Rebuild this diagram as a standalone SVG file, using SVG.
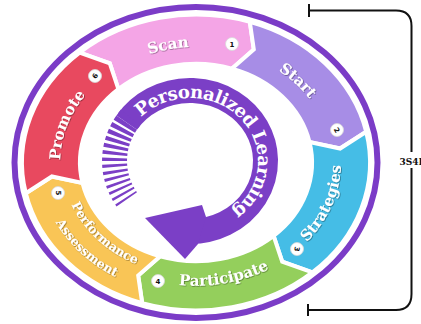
<svg xmlns="http://www.w3.org/2000/svg" width="421" height="324" viewBox="0 0 421 324">
<defs>
<style>
.seg{stroke:#fff;stroke-width:4;stroke-linejoin:miter}
.lbl{font-family:"DejaVu Serif","Liberation Serif",serif;font-weight:bold;font-size:15px;fill:#fff;text-anchor:middle}
.sm{font-size:12.5px}
.badge circle{fill:#fff;stroke:#d8d8d8;stroke-width:0.8}
.badge text{font-family:"DejaVu Sans",sans-serif;font-weight:bold;font-size:7px;fill:#111;text-anchor:middle}
.pur{fill:none;stroke:#7b3fc6}
.br{fill:none;stroke:#111;stroke-width:2}
</style>
<filter id="sh" x="-20%" y="-20%" width="140%" height="140%"><feDropShadow dx="0.7" dy="0.7" stdDeviation="0.5" flood-color="#000" flood-opacity="0.45"/></filter>
<path id="tScan" d="M105.0,76.6 A136 115.6 0 0 1 238.0,52.6"/>
<path id="tStart" d="M238.0,52.6 A136 115.6 0 0 1 329.0,138.5"/>
<path id="tPromote" d="M63.0,186.5 A136 115.6 0 0 1 105.0,76.6"/>
<path id="tStrat" d="M293.0,254.1 A145 123.25 0 0 0 337.8,136.9"/>
<path id="tPart" d="M151.2,279.7 A145 123.25 0 0 0 293.0,254.1"/>
<path id="tPerf" d="M64.9,186.2 A134 113.9 0 0 0 154.6,270.8"/>
<path id="tAss" d="M42.4,190.2 A157 133.45 0 0 0 147.5,289.4"/>
<path id="tPL" d="M141.1,117.2 A68 63 0 1 1 178.2,223.0"/>
</defs>
<rect width="421" height="324" fill="#fff"/>

<ellipse id="outer-ring" cx="196" cy="162.5" rx="181.5" ry="155.5" fill="none" stroke="#7b3cc7" stroke-width="6"/>

<g id="scan">
<path class="seg" fill="#f4a5e6" d="M79.6,52.6 A174 147.9 0 0 1 249.8,21.8 L253.8,49.5 L231.8,68.7 A116 98.6 0 0 0 118.4,89.2 L109.8,63.4 Z"/>
<text class="lbl" filter="url(#sh)"><textPath href="#tScan" startOffset="50%">Scan</textPath></text>
<g class="badge"><circle cx="232" cy="44" r="6.5"/><text x="232" y="46.5">1</text></g>
</g>

<g id="start">
<path class="seg" fill="#a78de6" d="M249.8,21.8 A174 147.9 0 0 1 366.2,131.7 L340.1,148.5 L309.5,142.0 A116 98.6 0 0 0 231.8,68.7 L253.8,49.5 Z"/>
<text class="lbl" filter="url(#sh)"><textPath href="#tStart" startOffset="50%">Start</textPath></text>
<g class="badge"><circle cx="337" cy="130" r="6.5"/><text x="337" y="132.5" transform="rotate(60 337 130)">2</text></g>
</g>

<g id="strategies">
<path class="seg" fill="#45bde6" d="M366.2,131.7 A174 147.9 0 0 1 312.4,272.4 L282.2,261.6 L273.6,235.8 A116 98.6 0 0 0 309.5,142.0 L340.1,148.5 Z"/>
<text class="lbl" filter="url(#sh)"><textPath href="#tStrat" startOffset="46%">Strategies</textPath></text>
<g class="badge"><circle cx="297" cy="249" r="6.5"/><text x="297" y="251.5" transform="rotate(100 297 249)">3</text></g>
</g>

<g id="participate">
<path class="seg" fill="#94cf5c" d="M312.4,272.4 A174 147.9 0 0 1 142.2,303.2 L138.2,275.5 L160.2,256.3 A116 98.6 0 0 0 273.6,235.8 L282.2,261.6 Z"/>
<text class="lbl" filter="url(#sh)"><textPath href="#tPart" startOffset="50%">Participate</textPath></text>
<g class="badge"><circle cx="158" cy="281" r="6.5"/><text x="158" y="283.5">4</text></g>
</g>

<g id="performance-assessment">
<path class="seg" fill="#f9c556" d="M142.2,303.2 A174 147.9 0 0 1 25.8,193.3 L51.9,176.5 L82.5,183.0 A116 98.6 0 0 0 160.2,256.3 L138.2,275.5 Z"/>
<text class="lbl sm" filter="url(#sh)"><textPath href="#tPerf" startOffset="50%">Performance</textPath></text>
<text class="lbl sm" filter="url(#sh)"><textPath href="#tAss" startOffset="50%">Assessment</textPath></text>
<g class="badge"><circle cx="58" cy="193" r="6.5"/><text x="58" y="195.5" transform="rotate(90 58 193)">5</text></g>
</g>

<g id="promote">
<path class="seg" fill="#e8495f" d="M25.8,193.3 A174 147.9 0 0 1 79.6,52.6 L109.8,63.4 L118.4,89.2 A116 98.6 0 0 0 82.5,183.0 L51.9,176.5 Z"/>
<text class="lbl" filter="url(#sh)"><textPath href="#tPromote" startOffset="50%">Promote</textPath></text>
<g class="badge"><circle cx="95" cy="76" r="6.5"/><text x="95" y="78.5" transform="rotate(-60 95 76)">6</text></g>
</g>

<g id="personalized-learning">
<path class="pur" stroke-width="25" d="M126.7,122.6 A75.5 70.5 0 1 1 190,231.5"/>
<polygon fill="#7b3fc6" points="145,218 202,205 206,217 198,244 185,259"/>
<path class="pur" stroke-width="25" stroke-dasharray="4.2 2.2 4.2 2.2 4 2.4 3.8 2.5 3.6 2.6 3.4 2.8 3.2 3 3 3.1 2.9 3.2 2.8 3.3 2.6 3.4 2.5 3.4 2.4 3.5 2.2 3.6 2 20" d="M130.5,117.6 A75.5 70.5 0 0 0 128.2,201.4"/>
<text font-family="DejaVu Serif, Liberation Serif, serif" font-weight="bold" font-size="18" fill="#fff"><textPath href="#tPL" textLength="215" lengthAdjust="spacing">Personalized Learning</textPath></text>
</g>

<g id="connectors">
<path class="br" d="M309,10.5 H396 Q411.5,10.5 411.5,26 V152"/>
<path class="br" d="M411.5,168 V294 Q411.5,310 396,310 H308"/>
<path class="br" d="M309,4 V17 M308,304 V316"/>
<text x="411" y="165" font-family="DejaVu Serif, Liberation Serif, serif" font-weight="bold" font-size="9" fill="#111" text-anchor="middle">3S4I</text>
</g>
</svg>
